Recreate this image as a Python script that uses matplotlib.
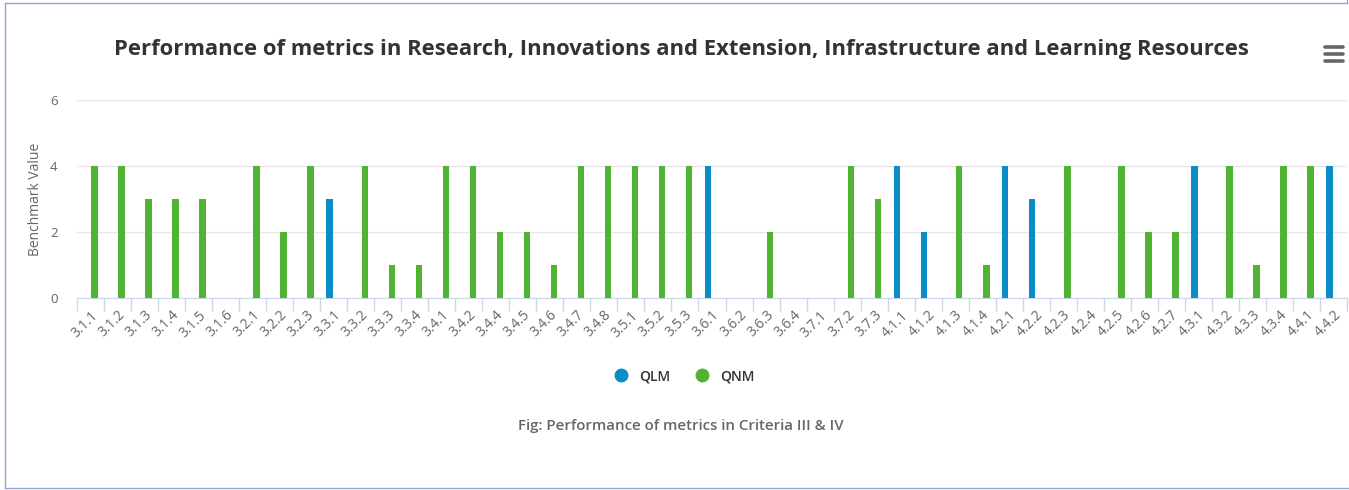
import numpy as np
import matplotlib.pyplot as plt
from matplotlib.lines import Line2D

# --------------------------------------------------
# Data
# --------------------------------------------------
categories = [
    "3.1.1", "3.1.2", "3.1.3", "3.1.4", "3.1.5", "3.1.6", "3.2.1", "3.2.2",
    "3.2.3", "3.3.1", "3.3.2", "3.3.3", "3.3.4", "3.4.1", "3.4.2", "3.4.4",
    "3.4.5", "3.4.6", "3.4.7", "3.4.8", "3.5.1", "3.5.2", "3.5.3", "3.6.1",
    "3.6.2", "3.6.3", "3.6.4", "3.7.1", "3.7.2", "3.7.3", "4.1.1", "4.1.2",
    "4.1.3", "4.1.4", "4.2.1", "4.2.2", "4.2.3", "4.2.4", "4.2.5", "4.2.6",
    "4.2.7", "4.3.1", "4.3.2", "4.3.3", "4.3.4", "4.4.1", "4.4.2",
]

# QLM (qualitative metrics)
qlm = [0, 0, 0, 0, 0, 0, 0, 0,
       0, 3, 0, 0, 0, 0, 0, 0,
       0, 0, 0, 0, 0, 0, 0, 4,
       0, 0, 0, 0, 0, 0, 4, 2,
       0, 0, 4, 3, 0, 0, 0, 0,
       0, 4, 0, 0, 0, 0, 4]

# QNM (quantitative metrics)
qnm = [4, 4, 3, 3, 3, 0, 4, 2,
       4, 0, 4, 1, 1, 4, 4, 2,
       2, 1, 4, 4, 4, 4, 4, 0,
       0, 2, 0, 0, 4, 3, 0, 0,
       4, 1, 0, 0, 4, 0, 4, 2,
       2, 0, 4, 1, 4, 4, 0]

series_names = ["QLM", "QNM"]
colors = ["#0b8dca", "#52b234"]

title = ("Performance of metrics in Research, Innovations and Extension, "
         "Infrastructure and Learning Resources")
caption = "Fig: Performance of metrics in Criteria III & IV"

plt.rcParams["font.family"] = ["Open Sans", "DejaVu Sans"]

# --------------------------------------------------
# Figure
# --------------------------------------------------
W, H = 1349, 490
fig = plt.figure(figsize=(W / 100, H / 100), dpi=100)
ax = fig.add_axes([77 / W, 1 - 298 / H, 1270 / W, 198 / H])

x = np.arange(len(categories))
bw = 0.24
off = 0.15
ax.bar(x - off, qlm, width=bw, color=colors[0], zorder=3)
ax.bar(x + off, qnm, width=bw, color=colors[1], zorder=3)

ax.set_xlim(-0.5, len(categories) - 0.5)
ax.set_ylim(0, 6)
ax.set_yticks([0, 2, 4, 6])
ax.yaxis.grid(True, color="#e6e6e6", linewidth=1, zorder=0)
ax.tick_params(axis="y", length=0, pad=14, labelsize=9.5, labelcolor="#666666")

ax.set_xticks(x)
ax.set_xticklabels(categories, rotation=45, ha="right", rotation_mode="anchor",
                   fontsize=10, color="#666666")
ax.tick_params(axis="x", length=0, pad=7)
ax.set_xticks(np.arange(len(categories) + 1) - 0.5, minor=True)
ax.tick_params(axis="x", which="minor", length=9, width=1, color="#ccd6eb")

for s in ["top", "right", "left"]:
    ax.spines[s].set_visible(False)
ax.spines["bottom"].set_color("#ccd6eb")

ax.set_ylabel("Benchmark Value", fontsize=10, color="#666666", labelpad=5)

fig.text(681 / W, 1 - 50 / H, title, ha="center", va="center",
         fontsize=15.8, fontweight="bold", color="#333333")
fig.text(681 / W, 1 - 426 / H, caption, ha="center", va="center",
         fontsize=10.8, fontweight="semibold", color="#666666")

handles = [Line2D([], [], marker="o", linestyle="none", markersize=9,
                  markerfacecolor=c, markeredgecolor=c) for c in colors]
fig.legend(handles, series_names, loc="center", bbox_to_anchor=(681 / W, 1 - 376 / H),
           ncol=2, frameon=False, handletextpad=0.3, columnspacing=1.3,
           prop={"size": 10, "weight": "semibold"}, labelcolor="#333333")

# menu icon
for yy in [47, 54, 61]:
    fig.add_artist(Line2D([1325 / W, 1343 / W], [1 - yy / H, 1 - yy / H],
                          color="#666666", linewidth=2.6, solid_capstyle="round"))

# outer border
bc = "#8fa6d2"
fig.add_artist(Line2D([4.5 / W, 4.5 / W], [1 - 3 / H, 1 - 488 / H], color=bc, linewidth=1))
fig.add_artist(Line2D([4.5 / W, 1346.5 / W], [1 - 3 / H, 1 - 3 / H], color=bc, linewidth=1))
fig.add_artist(Line2D([4.5 / W, 1349 / W], [1 - 488 / H, 1 - 488 / H], color=bc, linewidth=1))
fig.add_artist(Line2D([1346.5 / W, 1346.5 / W], [1, 1 - 3 / H], color=bc, linewidth=1))

fig.savefig("out.png", dpi=100)
